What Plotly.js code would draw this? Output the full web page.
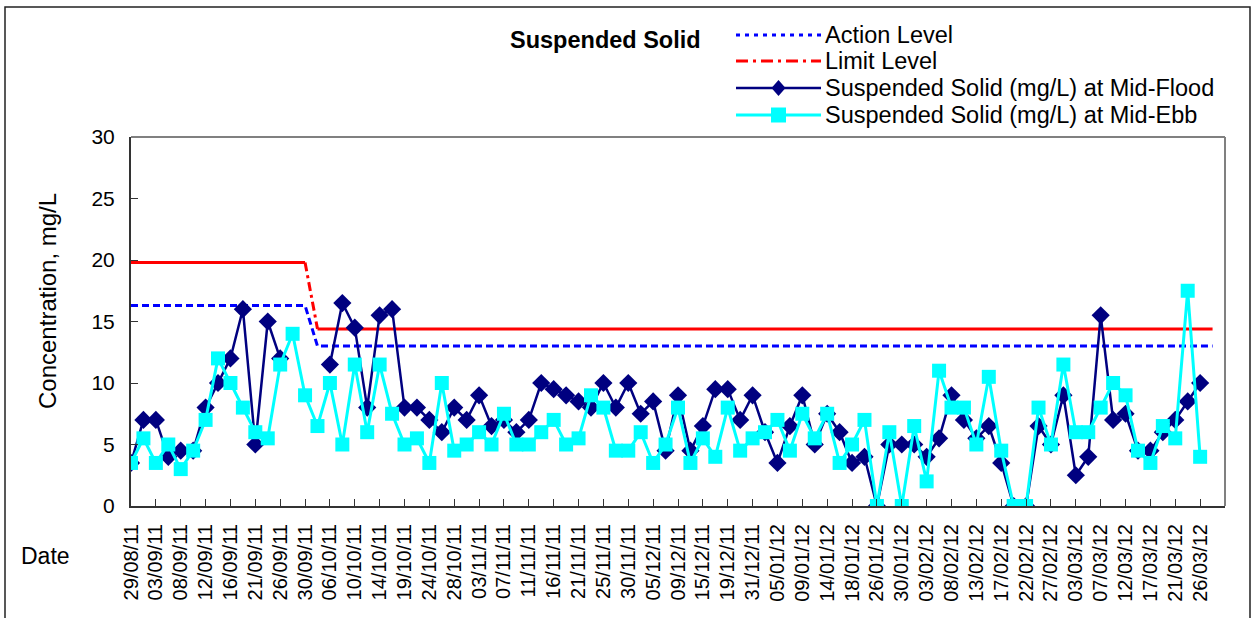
<!DOCTYPE html>
<html>
<head>
<meta charset="utf-8">
<script src="https://cdn.plot.ly/plotly-3.0.1.min.js"></script>
<style>html,body{margin:0;padding:0;background:#fff;}#chart{width:1256px;height:618px;}</style>
</head>
<body>
<div id="chart"></div>
<script>
// Tick labels shown on every second category (category index 0,2,4,...)
const tickLabels = ["29/08/11","03/09/11","08/09/11","12/09/11","16/09/11","21/09/11","26/09/11","30/09/11",
  "06/10/11","10/10/11","14/10/11","19/10/11","24/10/11","28/10/11","03/11/11","07/11/11","11/11/11",
  "16/11/11","21/11/11","25/11/11","30/11/11","05/12/11","09/12/11","15/12/11","19/12/11","31/12/11",
  "05/01/12","09/01/12","14/01/12","18/01/12","26/01/12","30/01/12","03/02/12","08/02/12","13/02/12",
  "17/02/12","22/02/12","27/02/12","03/03/12","07/03/12","12/03/12","17/03/12","21/03/12","26/03/12"];

// Suspended Solid (mg/L) at Mid-Flood, one value per category
const midFlood = [3.5,7,7,4,4.5,4.5,8,10,12,16,5,15,12,null,null,null,11.5,16.5,14.5,8,15.5,16,8,8,
  7,6,8,7,9,6.5,7,6,7,10,9.5,9,8.5,8,10,8,10,7.5,8.5,4.5,9,4.5,6.5,9.5,9.5,7,9,6,3.5,6.5,9,5,7.5,6,
  3.5,4,0,5,5,5,4,5.5,9,7,5.5,6.5,3.5,0,0,6.5,5,9,2.5,4,15.5,7,7.5,4.5,4.5,6,7,8.5,10];

// Suspended Solid (mg/L) at Mid-Ebb
const midEbb = [3.5,5.5,3.5,5,3,4.5,7,12,10,8,6,5.5,11.5,14,9,6.5,10,5,11.5,6,11.5,7.5,5,5.5,
  3.5,10,4.5,5,6,5,7.5,5,5,6,7,5,5.5,9,8,4.5,4.5,6,3.5,5,8,3.5,5.5,4,8,4.5,5.5,6,7,4.5,7.5,5.5,7.5,3.5,
  5,7,0,6,0,6.5,2,11,8,8,5,10.5,4.5,0,0,8,5,11.5,6,6,8,10,9,4.5,3.5,6.5,5.5,17.5,4];

// Action and Limit levels (categories 0..87)
const actionLevel = [
  16.3,16.3,16.3,16.3,16.3,16.3,16.3,16.3,16.3,16.3,16.3,16.3,16.3,16.3,16.3,
  13,13,13,13,13,13,13,13,13,13,
  13,13,13,13,13,13,13,13,13,13,
  13,13,13,13,13,13,13,13,13,13,
  13,13,13,13,13,13,13,13,13,13,
  13,13,13,13,13,13,13,13,13,13,
  13,13,13,13,13,13,13,13,13,13,
  13,13,13,13,13,13,13,13,13,13,
  13,13,13];
const limitLevel = [
  19.8,19.8,19.8,19.8,19.8,19.8,19.8,19.8,19.8,19.8,19.8,19.8,19.8,19.8,19.8,
  14.4,14.4,14.4,14.4,14.4,14.4,14.4,14.4,14.4,14.4,
  14.4,14.4,14.4,14.4,14.4,14.4,14.4,14.4,14.4,14.4,
  14.4,14.4,14.4,14.4,14.4,14.4,14.4,14.4,14.4,14.4,
  14.4,14.4,14.4,14.4,14.4,14.4,14.4,14.4,14.4,14.4,
  14.4,14.4,14.4,14.4,14.4,14.4,14.4,14.4,14.4,14.4,
  14.4,14.4,14.4,14.4,14.4,14.4,14.4,14.4,14.4,14.4,
  14.4,14.4,14.4,14.4,14.4,14.4,14.4,14.4,14.4,14.4,
  14.4,14.4,14.4];
const nCategories = 89;

const seriesNames = ["Action Level","Limit Level","Suspended Solid (mg/L) at Mid-Flood","Suspended Solid (mg/L) at Mid-Ebb"];
const chartTitle = "Suspended Solid";
const yTitle = "Concentration, mg/L";
const xTitle = "Date";

const idx = a => a.map((_, i) => i);

// Limit line: solid where level is constant, dash-dot across the step
const solidX = [], solidY = [], stepX = [], stepY = [];
limitLevel.forEach((v, i) => {
  if (i > 0 && v !== limitLevel[i - 1]) {
    solidX.push(i - 0.5); solidY.push(null);
    stepX.push(i - 1, i); stepY.push(limitLevel[i - 1], v);
  }
  solidX.push(i); solidY.push(v);
});

const FONT = "Liberation Sans, Arial, sans-serif";
const traces = [
  {x: idx(actionLevel), y: actionLevel, mode: "lines", name: seriesNames[0], showlegend: false,
   line: {color: "#0000FF", width: 3, dash: "7px,4px"}, hoverinfo: "skip"},
  {x: solidX, y: solidY, mode: "lines", showlegend: false, connectgaps: false,
   line: {color: "#FF0000", width: 3}, hoverinfo: "skip"},
  {x: stepX, y: stepY, mode: "lines", name: seriesNames[1], showlegend: false,
   line: {color: "#FF0000", width: 3, dash: "9px,4px,3px,4px"}, hoverinfo: "skip"},
  {x: idx(midFlood), y: midFlood, mode: "lines+markers", name: seriesNames[2], showlegend: false,
   connectgaps: false,
   line: {color: "#000080", width: 2.5}, marker: {symbol: "diamond", size: 14, color: "#000080"}},
  {x: idx(midEbb), y: midEbb, mode: "lines+markers", name: seriesNames[3], showlegend: false,
   line: {color: "#00FFFF", width: 3}, marker: {symbol: "square", size: 14, color: "#00FFFF"}}
];

// pixel helpers for decorations (plot area: x 131..1225, y 137..506)
const PL = 131, PR = 1225, PT = 137, PB = 506;
const px = x => (x - PL) / (PR - PL);
const py = y => (PB - y) / (PB - PT);

const tickvals = [], ticktext = [];
for (let i = 0; i < nCategories; i += 2) { tickvals.push(i); ticktext.push(tickLabels[i / 2] || ""); }

const shapes = [
  {type: "rect", xref: "paper", yref: "paper", x0: px(5), x1: px(1250), y0: py(640), y1: py(7),
   line: {color: "#222", width: 1.5}, fillcolor: "rgba(0,0,0,0)", layer: "below"},
  {type: "line", xref: "paper", yref: "paper", x0: 0, x1: 1, y0: 1, y1: 1, line: {color: "#808080", width: 2}},
  {type: "line", xref: "paper", yref: "paper", x0: 1, x1: 1, y0: 0, y1: 1, line: {color: "#808080", width: 2}},
  {type: "line", xref: "paper", yref: "paper", x0: px(736), x1: px(821), y0: py(35), y1: py(35),
   line: {color: "#0000FF", width: 3, dash: "4px,5px"}},
  {type: "line", xref: "paper", yref: "paper", x0: px(736), x1: px(821), y0: py(61), y1: py(61),
   line: {color: "#FF0000", width: 3, dash: "12px,5px,3px,5px"}},
  {type: "line", xref: "paper", yref: "paper", x0: px(736), x1: px(821), y0: py(88), y1: py(88),
   line: {color: "#000080", width: 2.5}},
  {type: "path", xref: "paper", yref: "paper",
   path: `M ${px(778.5)} ${py(80)} L ${px(785.5)} ${py(88)} L ${px(778.5)} ${py(96)} L ${px(771.5)} ${py(88)} Z`,
   fillcolor: "#000080", line: {width: 0}},
  {type: "line", xref: "paper", yref: "paper", x0: px(736), x1: px(821), y0: py(115), y1: py(115),
   line: {color: "#00FFFF", width: 3}},
  {type: "rect", xref: "paper", yref: "paper", x0: px(771), x1: px(786), y0: py(107.5), y1: py(122.5),
   fillcolor: "#00FFFF", line: {width: 0}}
];

const legendFont = {family: FONT, size: 23.5, color: "#000"};
const annotations = [
  {text: "<b>" + chartTitle + "</b>", xref: "paper", yref: "paper", x: px(605), y: py(40),
   xanchor: "center", yanchor: "middle", showarrow: false, font: {family: FONT, size: 23.5, color: "#000"}},
  {text: yTitle, xref: "paper", yref: "paper", x: px(47), y: py(301), textangle: -90,
   xanchor: "center", yanchor: "middle", showarrow: false, font: {family: FONT, size: 24, color: "#000"}},
  {text: xTitle, xref: "paper", yref: "paper", x: px(45), y: py(556),
   xanchor: "center", yanchor: "middle", showarrow: false, font: {family: FONT, size: 23, color: "#000"}}
];
[35, 61, 88, 115].forEach((yy, i) => annotations.push({
  text: seriesNames[i], xref: "paper", yref: "paper", x: px(823), y: py(yy),
  xanchor: "left", yanchor: "middle", showarrow: false, font: legendFont}));

const layout = {
  width: 1256, height: 618,
  margin: {l: PL, r: 1256 - PR, t: PT, b: 618 - PB, pad: 0},
  paper_bgcolor: "#fff", plot_bgcolor: "#fff",
  showlegend: false,
  xaxis: {range: [0, nCategories - 1], tickmode: "array", tickvals: tickvals, ticktext: ticktext,
    tickangle: -90, ticks: "inside", ticklen: 7, tickcolor: "#333", tickwidth: 1,
    showline: true, linecolor: "#333", linewidth: 2, showgrid: false, zeroline: false,
    ticklabelstandoff: 8,
    tickfont: {family: FONT, size: 20, color: "#000"}},
  yaxis: {range: [0, 30], dtick: 5, tick0: 0, ticks: "inside", ticklen: 7, tickcolor: "#333", tickwidth: 1,
    showline: true, linecolor: "#333", linewidth: 2, showgrid: false, zeroline: false,
    ticklabelstandoff: 10,
    tickfont: {family: FONT, size: 21, color: "#000"}},
  shapes: shapes,
  annotations: annotations
};

Plotly.newPlot("chart", traces, layout, {displayModeBar: false, staticPlot: true});
</script>
</body>
</html>
